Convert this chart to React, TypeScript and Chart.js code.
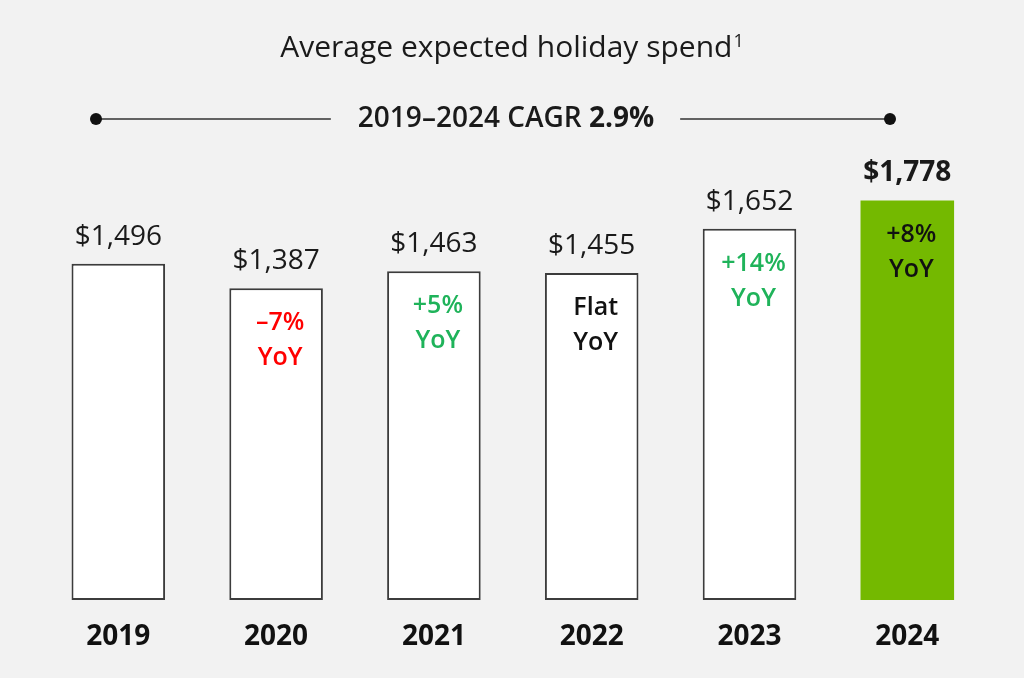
import React, { useEffect, useRef } from "react";
import { Chart, registerables } from "chart.js";

Chart.register(...registerables);

const categories = ["2019", "2020", "2021", "2022", "2023", "2024"];
const spend = [1496, 1387, 1463, 1455, 1652, 1778];
const yoyChange = ["", "–7%", "+5%", "Flat", "+14%", "+8%"];
const yoyWord = ["", "YoY", "YoY", "YoY", "YoY", "YoY"];
const yoyColors = ["#000000", "#ff0000", "#1fb35a", "#111111", "#1fb35a", "#111111"];
const barFills = ["#ffffff", "#ffffff", "#ffffff", "#ffffff", "#ffffff", "#74b900"];
const barBorders = ["#3c3c3c", "#3c3c3c", "#3c3c3c", "#3c3c3c", "#3c3c3c", "#74b900"];
const barBorderWidths = [2, 2, 2, 2, 2, 0];
const highlightIndex = 5;
const chartTitle = "Average expected holiday spend";
const titleNote = "1";
const cagrLabel = "2019–2024 CAGR ";
const cagrValue = "2.9%";

const FONT = "'Open Sans', 'Noto Sans', sans-serif";
const fmt = (v: number) => "$" + v.toLocaleString("en-US");

const overlay = {
  id: "overlay",
  beforeDraw(chart: any) {
    const { ctx, width, height } = chart;
    ctx.save();
    ctx.fillStyle = "#f2f2f2";
    ctx.fillRect(0, 0, width, height);
    ctx.restore();
  },
  afterDatasetsDraw(chart: any) {
    const { ctx } = chart;
    const meta = chart.getDatasetMeta(0);
    ctx.save();
    meta.data.forEach((bar: any, i: number) => {
      const bold = i === highlightIndex;
      ctx.font = `${bold ? 700 : 400} 28px ${FONT}`;
      ctx.fillStyle = "#1a1a1a";
      ctx.textAlign = "center";
      ctx.textBaseline = "alphabetic";
      ctx.fillText(fmt(spend[i]), bar.x, bar.y - 19);
      if (yoyChange[i]) {
        ctx.font = `600 25px ${FONT}`;
        ctx.fillStyle = yoyColors[i];
        ctx.fillText(yoyChange[i], bar.x + 4, bar.y + 42);
        ctx.fillText(yoyWord[i], bar.x + 4, bar.y + 77);
      }
    });
    ctx.restore();
  },
  afterDraw(chart: any) {
    const { ctx } = chart;
    ctx.save();
    // Title
    ctx.fillStyle = "#1a1a1a";
    ctx.textBaseline = "alphabetic";
    ctx.font = `400 30px ${FONT}`;
    const tw = ctx.measureText(chartTitle).width;
    ctx.font = `400 18px ${FONT}`;
    const nw = ctx.measureText(titleNote).width;
    const tx = 512 - (tw + nw + 1) / 2;
    ctx.textAlign = "left";
    ctx.font = `400 30px ${FONT}`;
    ctx.fillText(chartTitle, tx, 57);
    ctx.font = `400 18px ${FONT}`;
    ctx.fillText(titleNote, tx + tw + 1, 47);

    // CAGR line
    ctx.font = `600 28px ${FONT}`;
    const w1 = ctx.measureText(cagrLabel).width;
    ctx.font = `700 28px ${FONT}`;
    const w2 = ctx.measureText(cagrValue).width;
    const cx = 506;
    const sx = cx - (w1 + w2) / 2;
    ctx.font = `600 28px ${FONT}`;
    ctx.fillText(cagrLabel, sx, 127);
    ctx.font = `700 28px ${FONT}`;
    ctx.fillText(cagrValue, sx + w1, 127);

    const ly = 119;
    ctx.strokeStyle = "#333333";
    ctx.lineWidth = 1.5;
    ctx.beginPath();
    ctx.moveTo(96, ly);
    ctx.lineTo(sx - 27, ly);
    ctx.moveTo(sx + w1 + w2 + 26, ly);
    ctx.lineTo(890, ly);
    ctx.stroke();
    ctx.fillStyle = "#111111";
    [96, 890].forEach((x) => {
      ctx.beginPath();
      ctx.arc(x, ly, 6, 0, Math.PI * 2);
      ctx.fill();
    });
    ctx.restore();
  },
};

export default function App() {
  const ref = useRef<HTMLCanvasElement>(null);
  useEffect(() => {
    if (!ref.current) return;
    const chart = new Chart(ref.current, {
      type: "bar",
      data: {
        labels: categories,
        datasets: [
          {
            data: spend,
            backgroundColor: barFills,
            borderColor: barBorders,
            borderWidth: barBorderWidths,
            borderSkipped: false,
            categoryPercentage: 1,
            barPercentage: 0.593,
          },
        ],
      },
      options: {
        animation: false,
        responsive: false,
        devicePixelRatio: 1,
        layout: { padding: { top: 150.6, bottom: 4.4, left: 39.4, right: 37.8 } },
        plugins: { legend: { display: false }, tooltip: { enabled: false }, title: { display: false } },
        scales: {
          x: {
            grid: { display: false, drawTicks: false },
            border: { display: false },
            ticks: { color: "#111111", padding: 20, font: { family: FONT, size: 28, weight: "bold" } },
          },
          y: { display: false, min: 0, max: 2000 },
        },
      },
      plugins: [overlay],
    });
    return () => chart.destroy();
  }, []);
  return (
    <div style={{ position: "fixed", left: 0, top: 0, width: 1024, height: 678, background: "#f2f2f2" }}>
      <canvas ref={ref} width={1024} height={678} style={{ display: "block" }} />
    </div>
  );
}
